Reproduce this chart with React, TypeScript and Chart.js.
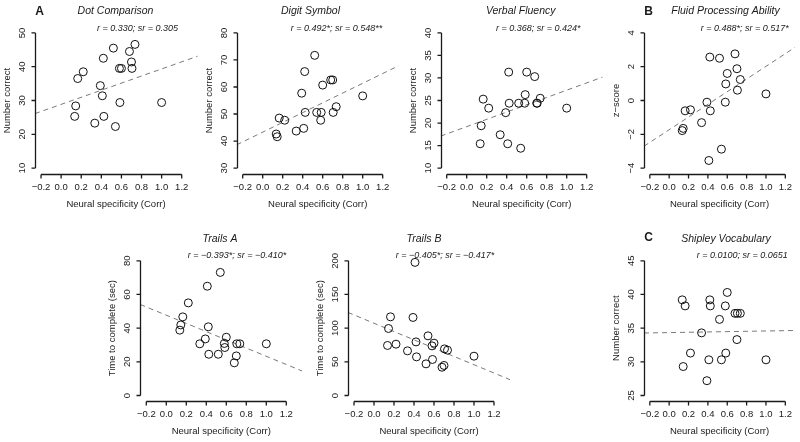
import React, { useEffect, useRef } from "react";
import { Chart, registerables } from "chart.js";
Chart.register(...registerables);

// ---------- data ----------
const neuralSpecificity = [0.135, 0.145, 0.165, 0.22, 0.335, 0.39, 0.41, 0.42, 0.425, 0.52, 0.54, 0.58, 0.585, 0.6, 0.68, 0.7, 0.705, 0.735, 1.0];
const xTicks = [-0.2, 0, 0.2, 0.4, 0.6, 0.8, 1.0, 1.2];

const dotComparison = [25.3, 28.4, 36.5, 38.5, 23.3, 34.4, 31.4, 42.5, 25.3, 45.5, 22.3, 39.5, 29.4, 39.5, 44.5, 41.4, 39.5, 46.6, 29.4];
const digitSymbol = [42.6, 41.6, 48.5, 47.7, 43.7, 57.7, 44.7, 65.7, 50.6, 71.7, 50.6, 47.7, 50.6, 60.7, 62.6, 62.6, 50.6, 52.7, 56.7];
const verbalFluency = [15.4, 19.4, 25.3, 23.3, 17.4, 22.3, 15.4, 31.3, 24.4, 24.4, 14.4, 24.4, 26.3, 31.3, 30.3, 24.4, 24.4, 25.5, 23.3];
const fluidProcessing = [-1.78, -1.65, -0.61, -0.55, -1.31, -0.1, -3.55, 2.57, -0.61, 2.5, -2.88, -0.1, 0.98, 1.6, 2.76, 1.88, 0.61, 1.24, 0.39];
const trailsA = [38.8, 41.9, 46.7, 55.0, 30.7, 33.6, 64.9, 40.8, 24.5, 24.5, 73.1, 30.9, 28.5, 34.6, 19.4, 23.5, 30.7, 30.7, 30.7];
const trailsB = [74.3, 99.5, 116.8, 76.2, 66.3, 115.9, 197.6, 79.6, 57.4, 47.0, 88.6, 73.7, 53.5, 77.7, 42.0, 44.6, 69.2, 67.3, 58.4];
const shipley = [39.2, 29.3, 38.3, 31.3, 34.3, 27.2, 30.3, 39.2, 38.3, 36.3, 30.3, 38.3, 31.3, 40.3, 37.2, 33.3, 37.2, 37.2, 30.3];

const dotTicks = [10, 20, 30, 40, 50];
const digitTicks = [30, 40, 50, 60, 70, 80];
const verbalTicks = [10, 15, 20, 25, 30, 35, 40];
const fluidTicks = [-4, -2, 0, 2, 4];
const trailsATicks = [0, 20, 40, 60, 80];
const trailsBTicks = [0, 50, 100, 150, 200];
const shipleyTicks = [25, 30, 35, 40, 45];

// regression lines: [intercept, slope]
const dotFit = [28.85, 10.49];
const digitFit = [43.3, 18.06];
const verbalFit = [19.2, 8.09];
const fluidFit = [-1.73, 3.75];
const trailsAFit = [47.7, -24.4];
const trailsBFit = [107.3, -61.6];
const shipleyFit = [34.34, 0.24];

const FONT = '"Liberation Sans", Arial, Helvetica, sans-serif';
const TEXT = "#1a1a1a";
const minus = (s: string) => s.replace(/-/g, "\u2212");

type PanelCfg = {
  title: string;
  stat: string;
  yLabel: string;
  letter?: string;
  values: number[];
  ticks: number[];
  fit: number[];
  area: { left: number; right: number; top: number; bottom: number };
  xMax: number;
  titleX: number;
  statX: number;
  letterPos?: [number, number];
};

const TOP = { top: 27.5, bottom: 173.5 };
const BOT = { top: 255.4, bottom: 400.9 };

const panels: PanelCfg[] = [
  { title: "Dot Comparison", stat: "r = 0.330; sr = 0.305", yLabel: "Number correct", letter: "A", letterPos: [39.5, 12],
    values: dotComparison, ticks: dotTicks, fit: dotFit, area: { left: 35, right: 197.8, ...TOP }, xMax: 1.36, titleX: 115.5, statX: 137.5 },
  { title: "Digit Symbol", stat: "r = 0.492*; sr = 0.548**", yLabel: "Number correct",
    values: digitSymbol, ticks: digitTicks, fit: digitFit, area: { left: 236.7, right: 398.7, ...TOP }, xMax: 1.36, titleX: 310.5, statX: 336.5 },
  { title: "Verbal Fluency", stat: "r = 0.368; sr = 0.424*", yLabel: "Number correct",
    values: verbalFluency, ticks: verbalTicks, fit: verbalFit, area: { left: 440.7, right: 602.7, ...TOP }, xMax: 1.36, titleX: 520.7, statX: 538.3 },
  { title: "Fluid Processing Ability", stat: "r = 0.488*; sr = 0.517*", yLabel: "z-score", letter: "B", letterPos: [648.5, 12],
    values: fluidProcessing, ticks: fluidTicks, fit: fluidFit, area: { left: 644, right: 800, ...TOP }, xMax: 1.3, titleX: 725.5, statX: 744.7 },
  { title: "Trails A", stat: "r = -0.393*; sr = -0.410*", yLabel: "Time to complete (sec)",
    values: trailsA, ticks: trailsATicks, fit: trailsAFit, area: { left: 140.3, right: 302.3, ...BOT }, xMax: 1.36, titleX: 220, statX: 237 },
  { title: "Trails B", stat: "r = -0.405*; sr = -0.417*", yLabel: "Time to complete (sec)",
    values: trailsB, ticks: trailsBTicks, fit: trailsBFit, area: { left: 348, right: 510, ...BOT }, xMax: 1.36, titleX: 424, statX: 445 },
  { title: "Shipley Vocabulary", stat: "r = 0.0100; sr = 0.0651", yLabel: "Number correct", letter: "C", letterPos: [648.5, 238],
    values: shipley, ticks: shipleyTicks, fit: shipleyFit, area: { left: 644, right: 800, ...BOT }, xMax: 1.3, titleX: 726, statX: 742.3 },
];

function Panel({ cfg }: { cfg: PanelCfg }) {
  const ref = useRef<HTMLCanvasElement>(null);
  useEffect(() => {
    const t = cfg.ticks;
    const span = t[t.length - 1] - t[0];
    const yMin = t[0] - 0.04 * span;
    const yMax = t[t.length - 1] + 0.04 * span;
    const xMin = -0.26;
    const xMax = cfg.xMax;
    const [a, b] = cfg.fit;

    const axesPlugin = {
      id: "rAxes",
      afterDraw(chart: any) {
        const { ctx, chartArea: ca, scales } = chart;
        const xs = scales.x;
        const ys = scales.y;
        ctx.save();
        ctx.strokeStyle = "#1a1a1a";
        ctx.fillStyle = TEXT;
        ctx.lineWidth = 1.3;
        // x axis
        const xb = Math.round(ca.bottom) + 0.5;
        ctx.beginPath();
        ctx.moveTo(xs.getPixelForValue(xTicks[0]), xb);
        ctx.lineTo(xs.getPixelForValue(xTicks[xTicks.length - 1]), xb);
        for (const v of xTicks) {
          const px = xs.getPixelForValue(v);
          ctx.moveTo(px, xb);
          ctx.lineTo(px, xb + 4);
        }
        ctx.stroke();
        ctx.font = `9.5px ${FONT}`;
        ctx.textAlign = "center";
        ctx.textBaseline = "middle";
        for (const v of xTicks) {
          ctx.fillText(minus(v.toFixed(1)), xs.getPixelForValue(v), xb + 13);
        }
        ctx.fillText("Neural specificity (Corr)", (ca.left + Math.min(ca.right, ca.left + 162)) / 2, ca.bottom + 30.5);
        // y axis
        const yl = Math.round(ca.left) + 0.5;
        ctx.beginPath();
        ctx.moveTo(yl, ys.getPixelForValue(t[0]));
        ctx.lineTo(yl, ys.getPixelForValue(t[t.length - 1]));
        for (const v of t) {
          const py = ys.getPixelForValue(v);
          ctx.moveTo(yl, py);
          ctx.lineTo(yl - 4, py);
        }
        ctx.stroke();
        for (const v of t) {
          ctx.save();
          ctx.translate(yl - 13.5, ys.getPixelForValue(v));
          ctx.rotate(-Math.PI / 2);
          ctx.fillText(minus(String(v)), 0, 0);
          ctx.restore();
        }
        ctx.save();
        ctx.translate(ca.left - 27.5, (ca.top + ca.bottom) / 2);
        ctx.rotate(-Math.PI / 2);
        ctx.fillText(minus(cfg.yLabel), 0, 0);
        ctx.restore();
        // titles
        ctx.font = `italic 10.5px ${FONT}`;
        ctx.fillText(cfg.title, cfg.titleX, ca.top - 16);
        ctx.font = `italic 9px ${FONT}`;
        ctx.fillText(minus(cfg.stat), cfg.statX, ca.top + 0.5);
        if (cfg.letter && cfg.letterPos) {
          ctx.font = `bold 12px ${FONT}`;
          ctx.fillText(cfg.letter, cfg.letterPos[0], cfg.letterPos[1]);
        }
        ctx.restore();
      },
    };

    const chart = new Chart(ref.current!, {
      type: "scatter",
      data: {
        datasets: [
          {
            type: "scatter",
            data: neuralSpecificity.map((x, i) => ({ x, y: cfg.values[i] })),
            pointRadius: 4,
            pointBorderWidth: 1,
            pointBorderColor: "#111",
            pointBackgroundColor: "rgba(0,0,0,0)",
            borderColor: "#111",
            backgroundColor: "rgba(0,0,0,0)",
          } as any,
          {
            type: "line",
            data: [
              { x: xMin, y: a + b * xMin },
              { x: xMax, y: a + b * xMax },
            ],
            borderColor: "#7a7a7a",
            borderWidth: 1,
            borderDash: [5, 4],
            pointRadius: 0,
            fill: false,
          } as any,
        ],
      },
      options: {
        responsive: false,
        devicePixelRatio: 1,
        animation: false,
        events: [],
        layout: {
          padding: {
            left: cfg.area.left,
            right: 800 - cfg.area.right,
            top: cfg.area.top,
            bottom: 442 - cfg.area.bottom,
          },
        },
        plugins: { legend: { display: false }, tooltip: { enabled: false } },
        scales: {
          x: { type: "linear", min: xMin, max: xMax, display: false },
          y: { type: "linear", min: yMin, max: yMax, display: false },
        },
      },
      plugins: [axesPlugin],
    });
    return () => chart.destroy();
  }, [cfg]);
  return (
    <canvas
      ref={ref}
      width={800}
      height={442}
      style={{ position: "absolute", left: 0, top: 0, width: 800, height: 442 }}
    />
  );
}

export default function App() {
  return (
    <div style={{ position: "absolute", left: 0, top: 0, width: 800, height: 442, background: "#fff", overflow: "hidden" }}>
      {panels.map((p) => (
        <Panel key={p.title} cfg={p} />
      ))}
    </div>
  );
}
